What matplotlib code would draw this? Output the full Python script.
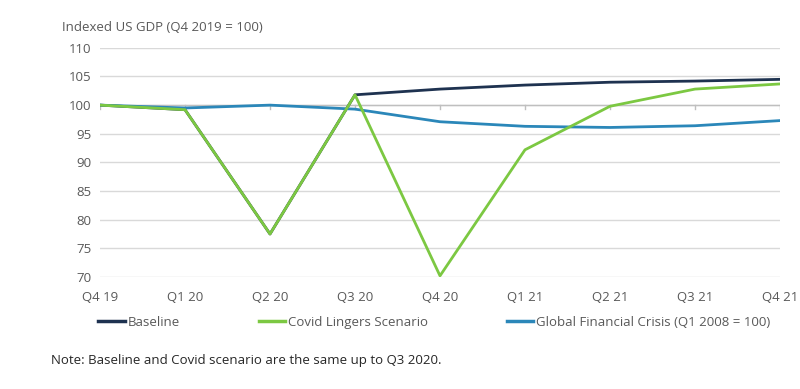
import matplotlib.pyplot as plt
from matplotlib.lines import Line2D

plt.rcParams['font.family'] = ['Open Sans', 'DejaVu Sans']

quarters = ['Q4 19', 'Q1 20', 'Q2 20', 'Q3 20', 'Q4 20', 'Q1 21', 'Q2 21', 'Q3 21', 'Q4 21']
baseline = [100, 99.2, 77.5, 101.8, 102.8, 103.5, 104.0, 104.2, 104.5]
covid = [100, 99.2, 77.5, 101.8, 70.2, 92.2, 99.8, 102.8, 103.7]
gfc = [100, 99.5, 100.0, 99.3, 97.1, 96.3, 96.1, 96.4, 97.3]
yticks = [70, 75, 80, 85, 90, 95, 100, 105, 110]

c_base = '#1e3250'
c_covid = '#7cc842'
c_gfc = '#2b87b9'
txt = '#595959'

fig = plt.figure(figsize=(8, 3.89), dpi=100)
ax = fig.add_axes([0.125, 0.288, 0.85, 0.589])
x = range(len(quarters))

ax.plot(x, baseline, color=c_base, lw=2, zorder=3)
ax.plot(x, gfc, color=c_gfc, lw=2, zorder=4)
ax.plot(x, covid, color=c_covid, lw=2, zorder=5)

ax.set_ylim(70, 110)
ax.set_xlim(0, len(quarters) - 1)
ax.set_yticks(yticks)
ax.set_xticks(list(x))
ax.set_xticklabels(quarters)
ax.grid(axis='y', color='#d9d9d9', lw=1)
ax.set_axisbelow(True)
for s in ax.spines.values():
    s.set_visible(False)
ax.tick_params(axis='both', length=0, colors=txt, labelsize=9.5)
ax.tick_params(axis='x', pad=10)
ax.tick_params(axis='y', pad=6)

# category axis crosses at 100
ax.axhline(100, color='#bfbfbf', lw=1, zorder=1)
for i in x:
    ax.plot([i, i], [100, 99.3], color='#bfbfbf', lw=1, zorder=1)

fig.text(0.078, 0.93, 'Indexed US GDP (Q4 2019 = 100)', color=txt, fontsize=9.5, va='center')

handles = [Line2D([], [], color=c_base, lw=2.5),
           Line2D([], [], color=c_covid, lw=2.5),
           Line2D([], [], color=c_gfc, lw=2.5)]
labels = ['Baseline', 'Covid Lingers Scenario', 'Global Financial Crisis (Q1 2008 = 100)']
fig.legend(handles, labels, loc='center', bbox_to_anchor=(0.543, 0.172), ncol=3, frameon=False,
           fontsize=9.5, handlelength=2.0, handletextpad=0.2, columnspacing=6.0, labelcolor=txt)

fig.text(0.064, 0.072, 'Note: Baseline and Covid scenario are the same up to Q3 2020.', color='#262626',
         fontsize=9.5, va='center')

fig.savefig('out.png', dpi=100)
